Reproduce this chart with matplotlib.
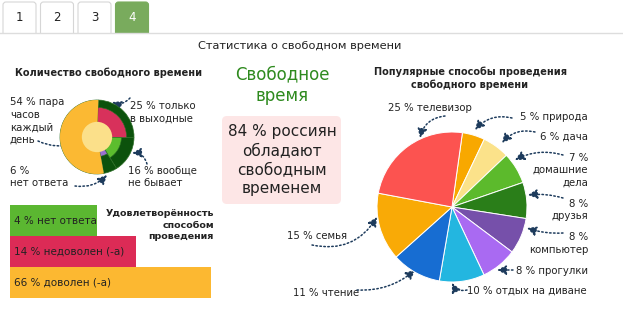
import matplotlib
matplotlib.use("Agg")
import matplotlib.pyplot as plt
from matplotlib.patches import FancyBboxPatch, Circle
import numpy as np

W, H = 623, 323
plt.rcParams['font.family'] = ['DejaVu Sans']
TXT = '#222222'
NAVY = '#1d3b5c'

# --- data ---
tabs = ['1', '2', '3', '4']
active_tab = 3

amount_labels = ['25 % только\nв выходные', '16 % вообще\nне бывает', '6 %\nнет ответа', '54 % пара\nчасов\nкаждый\nдень']
amount_values = [25, 16, 6, 54]
amount_outer_colors = ['#0c520c', '#0c520c', '#0c520c', '#fbb933']
amount_inner_colors = ['#d8315b', '#5cbd2e', '#9a70d0', '#fbb933']
amount_inner_radius = [0.8, 0.66, 0.53, 1.0]

sat_labels = ['4 % нет ответа', '14 % недоволен (-а)', '66 % доволен (-а)']
sat_values = [4, 14, 66]
sat_colors = ['#5bb731', '#dc2b56', '#fcb831']

ways_labels = ['5 % природа', '6 % дача', '7 %\nдомашние\nдела', '8 %\nдрузья', '8 %\nкомпьютер',
               '8 % прогулки', '10 % отдых на диване', '11 % чтение', '15 % семья', '25 % телевизор']
ways_values = [5, 6, 7, 8, 8, 8, 10, 11, 15, 25]
ways_colors = ['#f8a800', '#fbe28a', '#5cba2c', '#2a7e19', '#7650aa',
               '#a96af2', '#23b6e0', '#176dd2', '#f9aa06', '#fc5350']

fig = plt.figure(figsize=(W / 100, H / 100), dpi=100)
bg = fig.add_axes([0, 0, 1, 1])
bg.set_xlim(0, W)
bg.set_ylim(H, 0)
bg.axis('off')


def px_axes(x0, y0, w, h):
    return fig.add_axes([x0 / W, 1 - (y0 + h) / H, w / W, h / H])


def arrow(start, end, rad):
    bg.annotate('', xy=end, xytext=start,
                arrowprops=dict(arrowstyle='-|>,head_length=0.55,head_width=0.28', color=NAVY,
                                lw=1.1, linestyle=(0, (1, 1.6)), connectionstyle=f'arc3,rad={rad}',
                                shrinkA=0, shrinkB=0))


# tabs
for i, t in enumerate(tabs):
    x0 = 3 + i * 37.5
    on = i == active_tab
    bg.add_patch(FancyBboxPatch((x0, 2), 33, 34, boxstyle='round,pad=0,rounding_size=3',
                                fc='#79ab5d' if on else 'white', ec='#79ab5d' if on else '#d6d6d6', lw=0.8))
    bg.text(x0 + 16.5, 17.5, t, ha='center', va='center', fontsize=8.5, color='white' if on else TXT)
bg.plot([0, W], [33, 33], color='#dddddd', lw=1)
bg.add_patch(plt.Rectangle((0, 33.5), W, 4, fc='white', ec='none'))

bg.text(300, 46, 'Статистика о свободном времени', ha='center', va='center', fontsize=8.2, color=TXT)

# --- left: amount of free time ---
bg.text(109, 73, 'Количество свободного времени', ha='center', va='center', fontsize=7, color=TXT,
        fontweight='bold')
ax1 = px_axes(97 - 37, 137 - 37, 74, 74)
ax1.pie(amount_values, colors=amount_outer_colors, startangle=88, counterclock=False,
        wedgeprops=dict(edgecolor='#2d6e26', linewidth=0.5))
wedges, _ = ax1.pie(amount_values, colors=amount_inner_colors, startangle=88, counterclock=False,
                    wedgeprops=dict(edgecolor='#2d6e26', linewidth=0.4))
for wdg, r in zip(wedges, amount_inner_radius):
    wdg.set_radius(r)
wedges[-1].set_edgecolor('none')
ax1.add_patch(Circle((0, 0), 0.41, fc='#fbe08a', ec='none', zorder=5))
ax1.set_xlim(-1, 1)
ax1.set_ylim(-1, 1)
ax1.set_aspect('equal')
ax1.axis('off')

amt_pos = [(130, 112, 'left'), (128, 177, 'left'), (10, 177, 'left'), (10, 121, 'left')]
for lab, (x, y, ha) in zip(amount_labels, amt_pos):
    bg.text(x, y, lab, ha=ha, va='center', fontsize=7.3, color=TXT, linespacing=1.3)

for start, end, rad in [((130, 98), (112, 102), -0.35), ((147, 164), (132, 153), 0.4),
                        ((75, 186), (107, 175), 0.25), ((38, 141), (76, 143), 0.2)]:
    arrow(start, end, rad)

# --- satisfaction bars ---
ax2 = px_axes(10, 205, 201, 93)
ypos = np.arange(len(sat_values))
ax2.barh(ypos, sat_values, height=0.97, color=sat_colors)
ax2.set_xscale('function', functions=(lambda v: np.sign(v) * np.abs(v) ** 0.3,
                                      lambda v: np.sign(v) * np.abs(v) ** (1 / 0.3)))
ax2.set_xlim(0, max(sat_values))
ax2.set_ylim(len(sat_values) - 0.5, -0.5)
ax2.axis('off')
for y, lab in zip(ypos, sat_labels):
    ax2.text(0.02, y, lab, transform=ax2.get_yaxis_transform(), ha='left', va='center',
             fontsize=7.5, color=TXT)
bg.text(214, 225, 'Удовлетворённость\nспособом\nпроведения', ha='right', va='center', fontsize=6.8,
        color=TXT, fontweight='bold', linespacing=1.35)

# --- centre ---
bg.text(282, 85, 'Свободное\nвремя', ha='center', va='center', fontsize=12, color='#2e8a1e',
        linespacing=1.25)
bg.add_patch(FancyBboxPatch((222, 116), 119, 88, boxstyle='round,pad=0,rounding_size=5',
                            fc='#fde6e6', ec='none'))
bg.text(282, 160, '84 % россиян\nобладают\nсвободным\nвременем', ha='center', va='center',
        fontsize=11, color=TXT, linespacing=1.35)

# --- right: popular ways ---
bg.text(470, 78.5, 'Популярные способы проведения\nсвободного времени', ha='center', va='center',
        fontsize=7, color=TXT, fontweight='bold', linespacing=1.3)
ax3 = px_axes(452 - 75, 207 - 75, 150, 150)
ax3.pie(ways_values, colors=ways_colors, startangle=82, counterclock=False,
        wedgeprops=dict(edgecolor='white', linewidth=0.7))
ax3.set_xlim(-1, 1)
ax3.set_ylim(-1, 1)
ax3.set_aspect('equal')
ax3.axis('off')

ways_pos = [(588, 117, 'right'), (588, 137, 'right'), (588, 170, 'right'), (588, 210, 'right'),
            (588, 243.5, 'right'), (588, 271, 'right'), (467, 291, 'left'), (293, 293, 'left'),
            (287, 236, 'left'), (388, 108, 'left')]
for lab, (x, y, ha) in zip(ways_labels, ways_pos):
    bg.text(x, y, lab, ha=ha, va='center', fontsize=7.3, color=TXT, linespacing=1.3,
            multialignment='right' if ha == 'right' else 'left')

for start, end, rad in [((512, 118), (475, 130), 0.3), ((535, 132), (502, 143), 0.3),
                        ((563, 155), (515, 160), 0.2), ((563, 198), (528, 195), 0.1),
                        ((563, 233), (527, 228), -0.1), ((513, 270), (497, 270), 0.0),
                        ((467, 290), (452, 283), -0.4), ((357, 290), (415, 270), 0.2),
                        ((312, 245), (377, 217), 0.35), ((445, 116), (420, 138), 0.35)]:
    arrow(start, end, rad)

fig.savefig('out.png', dpi=100)
